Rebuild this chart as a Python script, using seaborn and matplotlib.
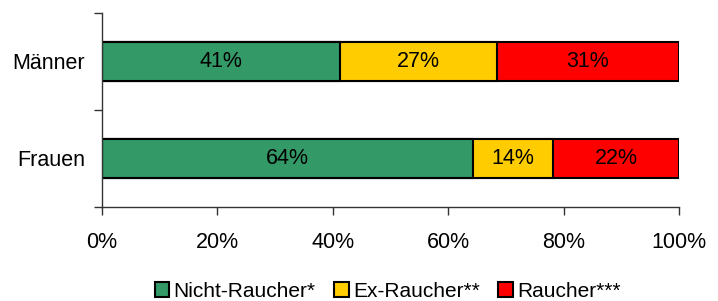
import matplotlib
matplotlib.use("Agg")
import matplotlib.pyplot as plt
import seaborn as sns
import pandas as pd
import numpy as np
from matplotlib.patches import Patch
from matplotlib.ticker import FixedLocator, PercentFormatter

categories = ["Männer", "Frauen"]
series_names = ["Nicht-Raucher*", "Ex-Raucher**", "Raucher***"]
nicht_raucher = [41.3, 64.2]
ex_raucher = [27.1, 13.9]
raucher = [31.6, 21.9]
labels_nicht = ["41%", "64%"]
labels_ex = ["27%", "14%"]
labels_raucher = ["31%", "22%"]
colors = ["#339966", "#FFCC00", "#FF0000"]
xticks = [0, 20, 40, 60, 80, 100]

sns.set_theme(style="white")
plt.rcParams["font.family"] = ["Liberation Sans", "DejaVu Sans"]
plt.rcParams["text.color"] = "black"
plt.rcParams["xtick.labelcolor"] = "black"
plt.rcParams["ytick.labelcolor"] = "black"

FS = 15.5

values = [nicht_raucher, ex_raucher, raucher]
labels = [labels_nicht, labels_ex, labels_raucher]
cum = np.cumsum(np.array(values), axis=0)

fig = plt.figure(figsize=(7.18, 3.01), dpi=100)
ax = fig.add_axes([0.142, 0.313, 0.804, 0.644])

for i in reversed(range(3)):
    df = pd.DataFrame({"cat": categories, "val": cum[i]})
    sns.barplot(data=df, x="val", y="cat", order=categories, color=colors[i],
                orient="h", width=0.4, edgecolor="black", linewidth=1.5,
                saturation=1, ax=ax)

for i in range(3):
    for j, c in enumerate(categories):
        start = cum[i][j] - values[i][j]
        ax.text(start + values[i][j] / 2, j, labels[i][j], ha="center", va="center",
                fontsize=FS, color="black")

ax.set_xlim(0, 100)
ax.set_ylim(1.5, -0.5)
ax.set_xlabel("")
ax.set_ylabel("")
ax.set_xticks(xticks)
ax.xaxis.set_major_formatter(PercentFormatter(decimals=0))
ax.tick_params(axis="x", direction="out", length=6, width=1, color="#333333",
               labelsize=FS, pad=12, bottom=True)
ax.tick_params(axis="y", which="major", length=0, labelsize=FS, pad=12)
ax.yaxis.set_minor_locator(FixedLocator([-0.5, 0.5, 1.5]))
ax.tick_params(axis="y", which="minor", direction="out", length=6, width=1,
               color="#333333", left=True)
for s in ["top", "right"]:
    ax.spines[s].set_visible(False)
for s in ["left", "bottom"]:
    ax.spines[s].set_color("#333333")
    ax.spines[s].set_linewidth(1)

handles = [Patch(facecolor=colors[k], edgecolor="black", linewidth=1.5, label=series_names[k])
           for k in range(3)]
fig.legend(handles=handles, loc="lower center", bbox_to_anchor=(0.54, -0.062), ncol=3,
           frameon=False, fontsize=15, handlelength=0.7, handleheight=0.7,
           handletextpad=0.2, columnspacing=0.9)

fig.savefig("out.png", dpi=100)
